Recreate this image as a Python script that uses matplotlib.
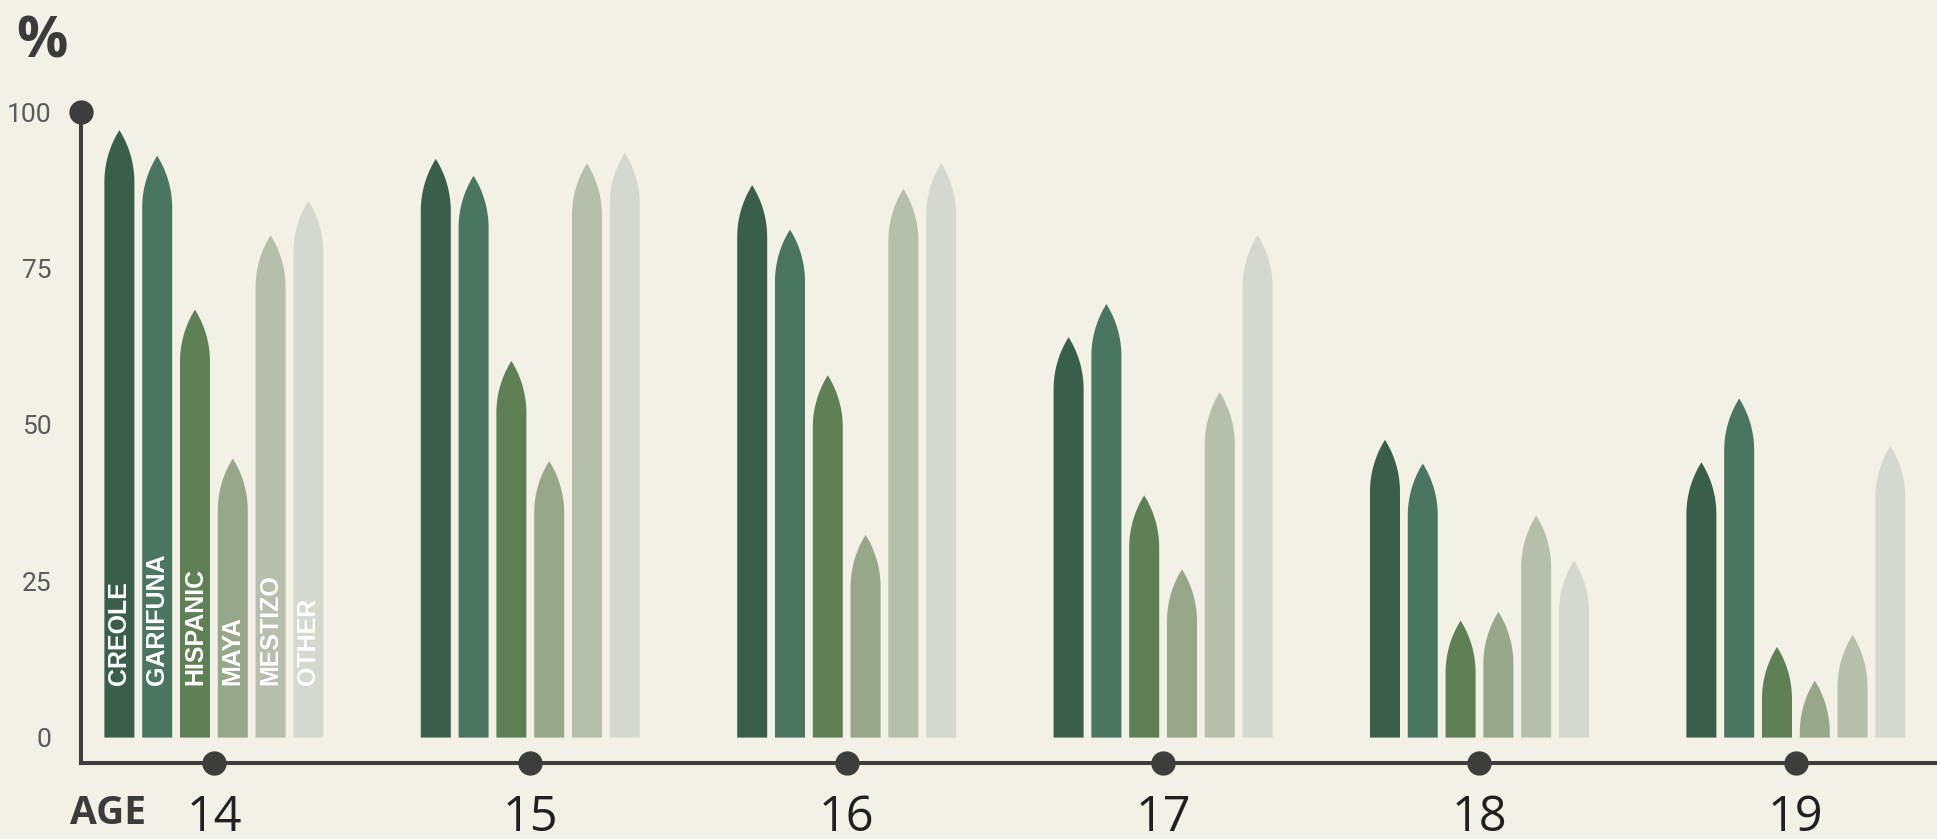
import numpy as np
import matplotlib.pyplot as plt
from matplotlib.patches import Polygon

ages = [14, 15, 16, 17, 18, 19]
groups = ['CREOLE', 'GARIFUNA', 'HISPANIC', 'MAYA', 'MESTIZO', 'OTHER']
colors = ['#395f4a', '#4a7560', '#5f7f55', '#97a78a', '#b5bfac', '#d4d8cf']

creole = [97.1, 92.5, 88.3, 64.0, 47.6, 44.0]
garifuna = [93.0, 89.8, 81.2, 69.3, 43.8, 54.2]
hispanic = [68.4, 60.2, 57.9, 38.7, 18.7, 14.5]
maya = [44.6, 44.2, 32.4, 26.9, 20.1, 9.1]
mestizo = [80.3, 91.8, 87.7, 55.2, 35.5, 16.4]
other = [85.8, 93.5, 91.8, 80.3, 28.3, 46.6]
series = [creole, garifuna, hispanic, maya, mestizo, other]

yticks = [0, 25, 50, 75, 100]

bg = '#f3f1e6'
ink = '#3d3d3b'

W, H = 1937, 839
fig = plt.figure(figsize=(W / 100, H / 100), dpi=100, facecolor=bg)
ax = fig.add_axes([81 / W, (H - 763.3) / H, 1 - 81 / W, (763.3 - 112) / H])
ax.set_facecolor('none')
ax.set_xlim(13.58, 19.446)
ax.set_ylim(-4.11, 100)

# pixel size of one data unit, used to shape the pointed tops
px_x = ax.get_position().width * W / (19.446 - 13.58)
px_y = ax.get_position().height * H / (100 + 4.11)

step = 37.8 / px_x
arch = 52  # px


def spike(xc, v):
    # straight sides with a lancet arch on top, built in pixels then scaled back
    w = 30.0
    top = v * px_y
    s = max(top - arch, 0)
    a = top - s
    R = (w * w / 4 + a * a) / w
    t_end = np.arccos((w / 2 - R) / R)
    t = np.linspace(np.pi, t_end, 30)
    lx = -w / 2 + R + R * np.cos(t)
    ly = s + R * np.sin(t)
    xs = np.concatenate([[-w / 2], lx, -lx[::-1], [w / 2]])
    ys = np.concatenate([[0], ly, ly[::-1], [0]])
    return np.column_stack([xc + xs / px_x, ys / px_y])


for j, age in enumerate(ages):
    for i, vals in enumerate(series):
        xc = age + (i - 2.5) * step
        ax.add_patch(Polygon(spike(xc, vals[j]), closed=True, facecolor=colors[i],
                             edgecolor='none', clip_on=False))

# group names written up the first set of bars
for i, name in enumerate(groups):
    ax.text(ages[0] + (i - 2.5) * step, 8.4, name, rotation=90, ha='center', va='bottom',
            color='white', fontsize=18, fontweight='bold', family='Liberation Sans')

for side in ['top', 'right']:
    ax.spines[side].set_visible(False)
for side in ['left', 'bottom']:
    ax.spines[side].set_color(ink)
    ax.spines[side].set_linewidth(2.9)
    ax.spines[side].set_capstyle('projecting')

ax.plot([13.58], [100], 'o', ms=16.5, color=ink, clip_on=False, zorder=5)
ax.plot(ages, [-4.11] * len(ages), 'o', ms=16.5, color=ink, clip_on=False, zorder=5)

ax.set_yticks(yticks)
ax.set_yticklabels([str(v) for v in yticks], family='Roboto', fontsize=19,
                   color='#5a5a5a')
ax.tick_params(axis='y', length=0, pad=21)
ax.set_xticks(ages)
ax.set_xticklabels([str(a) for a in ages], family='Open Sans', fontsize=35, color='#231f20')
ax.tick_params(axis='x', length=0, pad=22)

fig.text(42 / W, 1 - 43 / H, '%', ha='center', va='center', fontsize=41,
         fontweight='bold', family='Open Sans', color='#3b3b3b')
fig.text(108 / W, 1 - 814 / H, 'AGE', ha='center', va='center', fontsize=28,
         fontweight='bold', family='Open Sans', color='#3b3b3b')

fig.savefig('out.png', dpi=100, facecolor=bg)
